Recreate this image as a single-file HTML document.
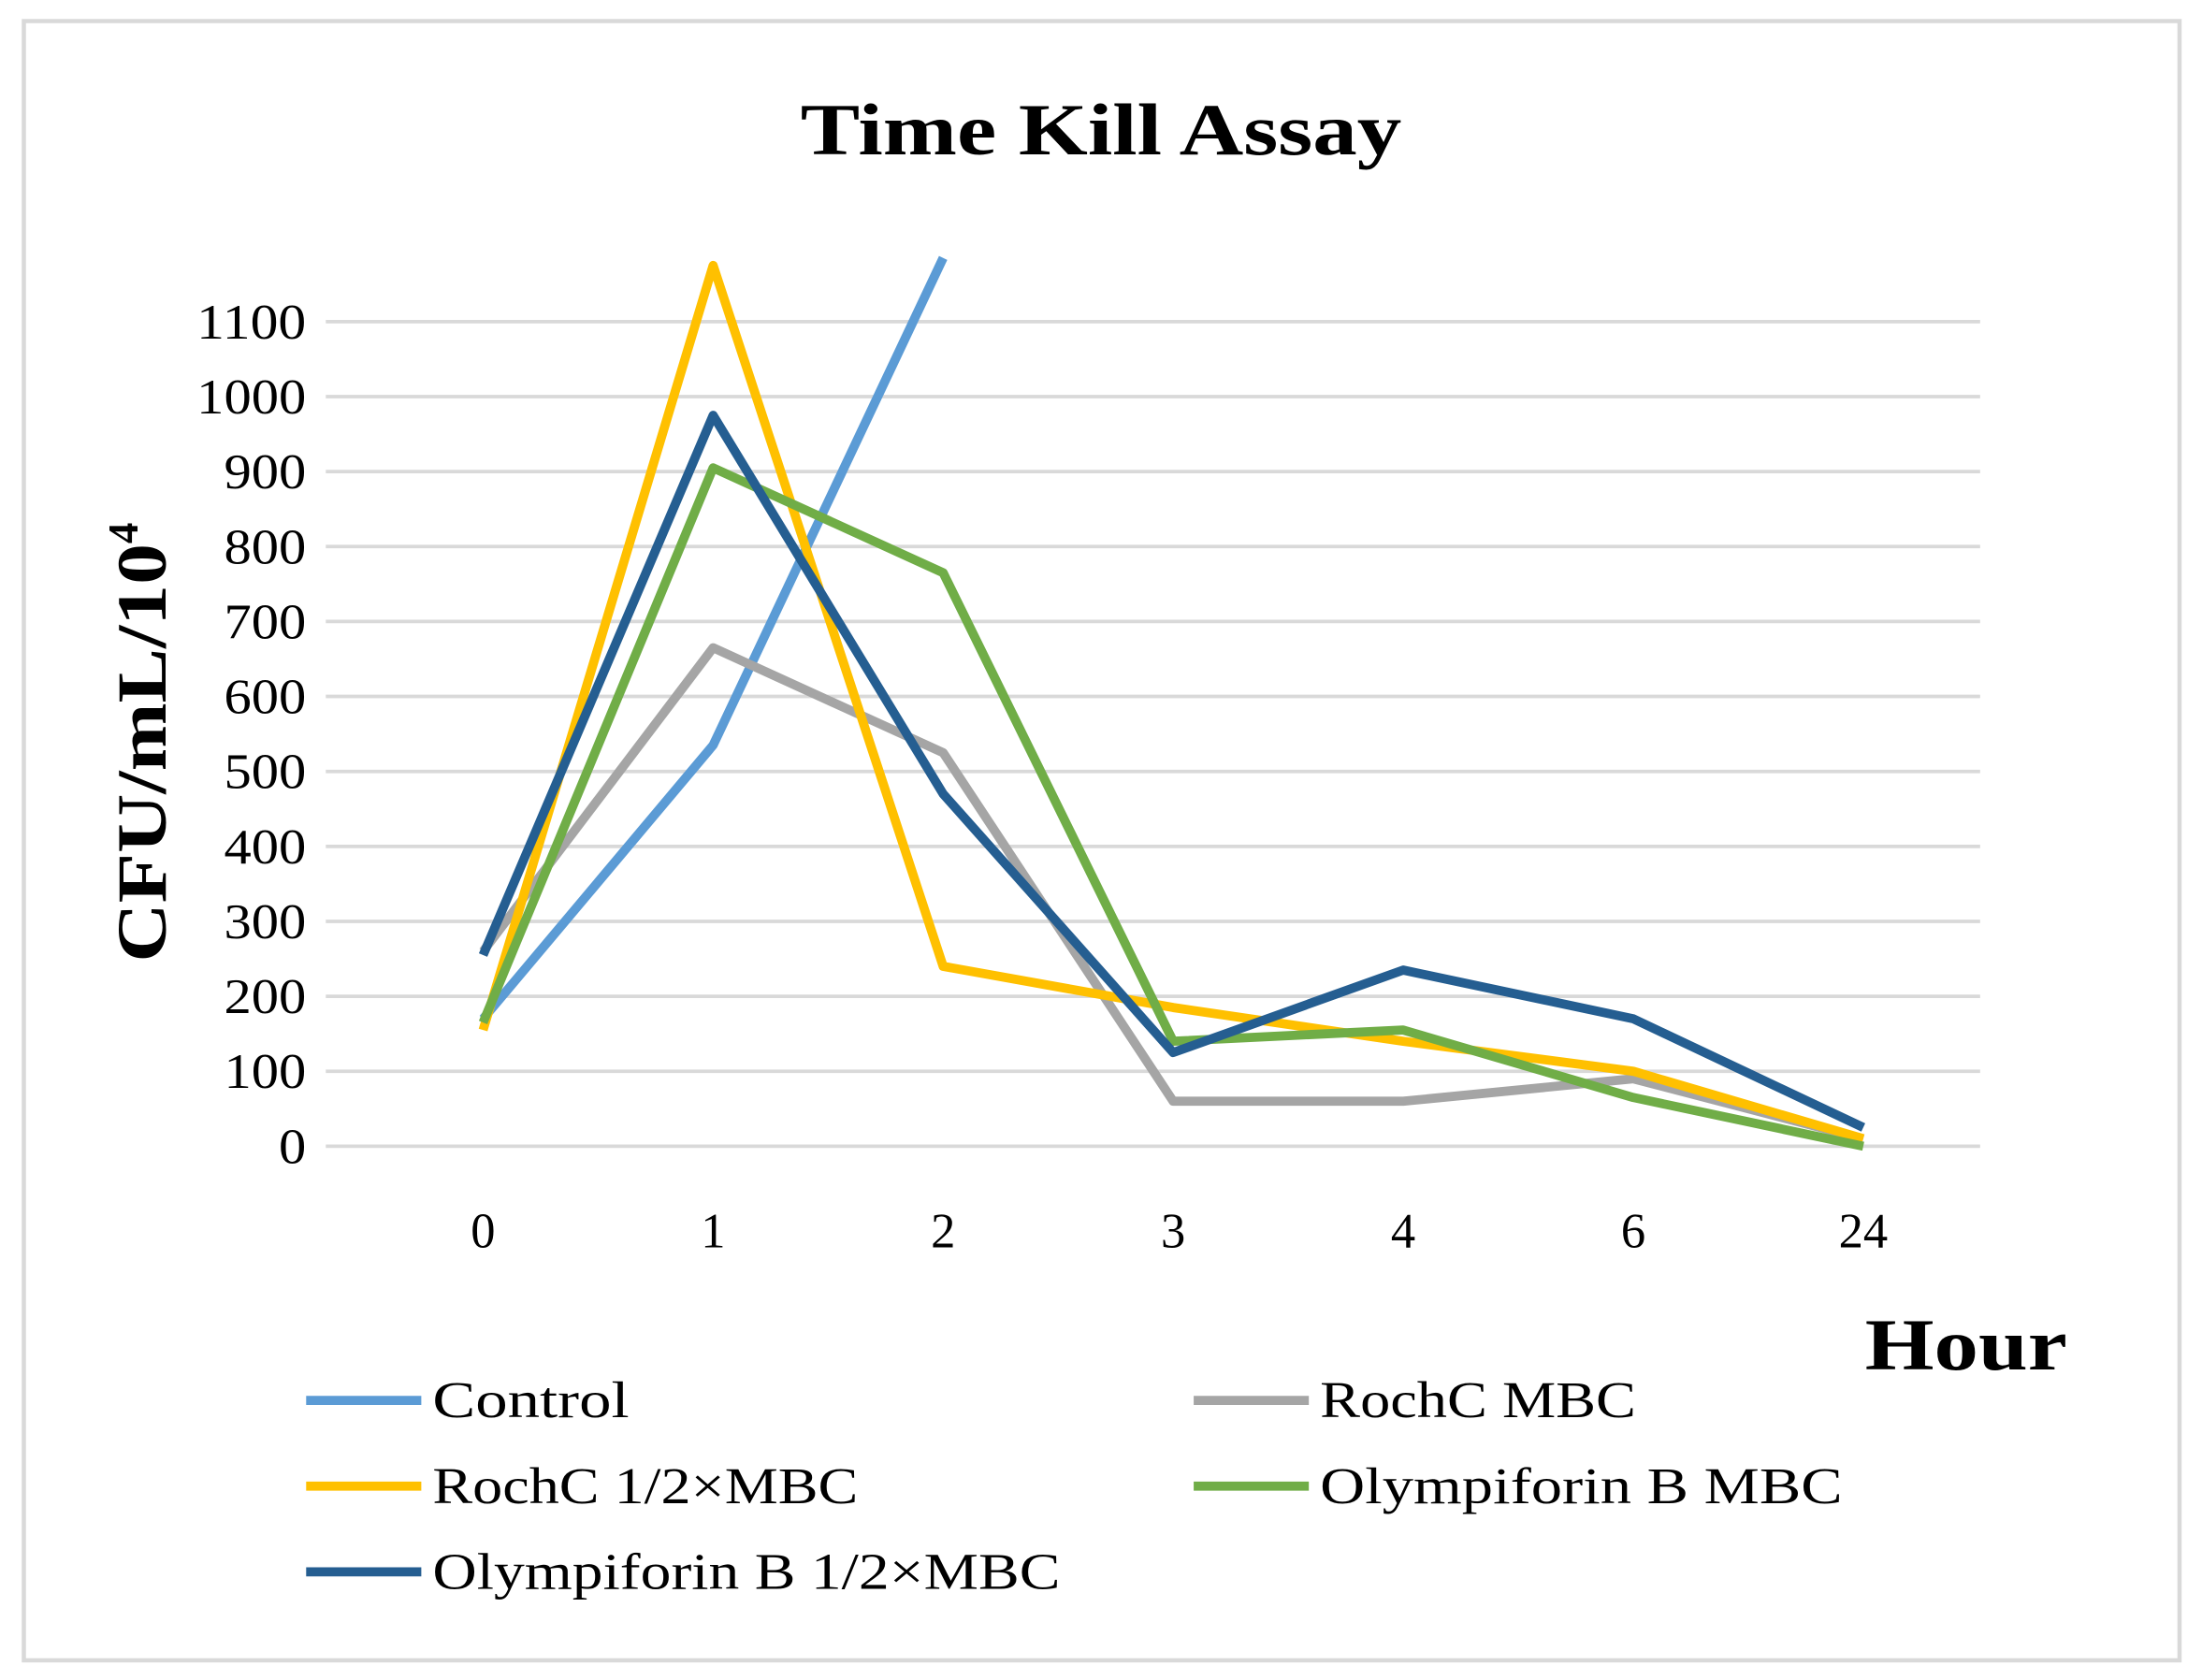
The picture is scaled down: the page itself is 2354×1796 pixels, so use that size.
<!DOCTYPE html>
<html><head><meta charset="utf-8"><style>
html,body{margin:0;padding:0;background:#fff;}
svg{display:block;}
text{font-family:"Liberation Serif",serif;}
</style></head><body>
<svg width="2354" height="1796" viewBox="0 0 1568 1196" preserveAspectRatio="none">
<rect x="17" y="15" width="1535" height="1167" fill="#fff" stroke="#d9d9d9" stroke-width="3"/>
<text x="570" y="110" textLength="428" lengthAdjust="spacingAndGlyphs" font-size="52" font-weight="bold">Time Kill Assay</text>
<text transform="translate(118,685) rotate(-90)" font-size="50" font-weight="bold"><tspan textLength="298" lengthAdjust="spacingAndGlyphs">CFU/mL/10</tspan><tspan font-size="30" dy="-20">4</tspan></text>
<text x="1328" y="975" textLength="144" lengthAdjust="spacingAndGlyphs" font-size="52" font-weight="bold">Hour</text>
<g id="grid"></g><g id="ylab"></g><g id="xlab"></g>
<defs><clipPath id="pc"><rect x="200" y="180" width="1250" height="700"/></clipPath></defs>
<g id="lines" clip-path="url(#pc)"></g>
<g id="legend"></g>
</svg>
<script>
const categories=["0","1","2","3","4","6","24"];
const yTicks=[0,100,200,300,400,500,600,700,800,900,1000,1100];
const seriesNames=["Control","RochC MBC","RochC 1/2×MBC","Olympiforin B MBC","Olympiforin B 1/2×MBC"];
const control=[170,535,1185,null,null,null,null];
const rochMBC=[260,665,525,60,60,90,10];
const rochHalf=[155,1175,240,185,140,100,10];
const olyMBC=[165,905,765,140,155,65,0];
const olyHalf=[255,975,470,125,235,170,25];
const seriesColors=["#5b9bd5","#a5a5a5","#ffc000","#70ad47","#255e91"];
const legendWidths=[140,225,303,372,447];
const NS="http://www.w3.org/2000/svg";
const y=v=>816-v*(816-229)/1100;
const x=i=>344+i*163.8;
function mk(t,a,p){const e=document.createElementNS(NS,t);for(const k in a)e.setAttribute(k,a[k]);p.appendChild(e);return e;}
const grid=document.getElementById('grid'),yl=document.getElementById('ylab'),xl=document.getElementById('xlab');
yTicks.forEach(v=>{
 const l=mk('line',{x1:232,x2:1410,y1:y(v),y2:y(v),stroke:'#d9d9d9','stroke-width':2.5},grid);
 
 
 const t=mk('text',{x:218,y:y(v)+12,'text-anchor':'end','font-size':35},yl);t.textContent=v;
 t.setAttribute('textLength',String(v).length*19.5);
 t.setAttribute('lengthAdjust','spacingAndGlyphs');
 
 
});
categories.forEach((c,i)=>{
 const t=mk('text',{x:x(i),y:888,'text-anchor':'middle','font-size':35},xl);t.textContent=c;
 
 
});
const all=[control,rochMBC,rochHalf,olyMBC,olyHalf];
const lg=document.getElementById('lines');
[0,1,2,3,4].forEach(s=>{
 const pts=all[s].map((v,i)=>v==null?null:x(i)+','+y(v)).filter(p=>p).join(' ');
 const p=mk('polyline',{points:pts,fill:'none',stroke:seriesColors[s],'stroke-width':6.5,'stroke-linejoin':'round'},lg);
 
 
});
const leg=document.getElementById('legend');
const lpos=[[218,997],[850,997],[218,1058],[850,1058],[218,1119]];
seriesNames.forEach((n,s)=>{
 const [lx,ly]=lpos[s];
 const l=mk('line',{x1:lx,x2:lx+82,y1:ly,y2:ly,stroke:seriesColors[s],'stroke-width':6.5},leg);
 
 
 const t=mk('text',{x:lx+90,y:ly+12,'font-size':37,textLength:legendWidths[s],lengthAdjust:'spacingAndGlyphs'},leg);t.textContent=n;
 
 
});
</script>
</body></html>
